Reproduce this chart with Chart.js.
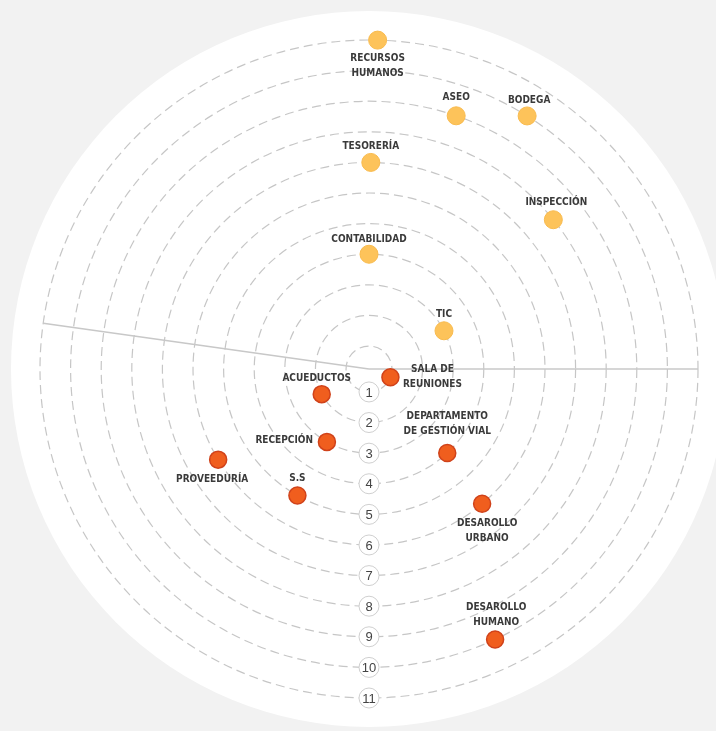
<!DOCTYPE html>
<html>
<head>
<meta charset="utf-8">
<script src="https://cdn.jsdelivr.net/npm/chart.js@4/dist/chart.umd.min.js"></script>
<style>
  body { margin: 0; background: #f2f2f2; }
  #wrap { width: 716px; height: 731px; position: relative; }
</style>
</head>
<body>
<div id="wrap"><canvas id="myChart"></canvas></div>
<script>
// ring numbers shown along the bottom axis
var rings = [1, 2, 3, 4, 5, 6, 7, 8, 9, 10, 11];

// upper group (yellow): name, ring, angle in degrees clockwise from top
var topNames = ['RECURSOS\nHUMANOS', 'ASEO', 'BODEGA', 'TESORERÍA', 'INSPECCIÓN', 'CONTABILIDAD', 'TIC'];
var topRings = [11, 9, 10, 7, 8, 4, 3];
var topAngles = [1.5, 19, 32, 0.5, 51, 0, 63];

// lower group (orange)
var lowNames = ['SALA DE\nREUNIONES', 'ACUEDUCTOS', 'RECEPCIÓN', 'DEPARTAMENTO\nDE GESTIÓN VIAL', 'PROVEEDURÍA', 'S.S', 'DESAROLLO\nURBANO', 'DESAROLLO\nHUMANO'];
var lowRings = [1, 2, 3, 4, 6, 5, 6, 10];
var lowAngles = [111, 242, 210, 137, 239, 209.5, 140, 155];

// the two solid divider lines
var dividers = [90, 278];

// where each label sits relative to its dot: [dx, dy of first line, align]
var topLabelPos = [[0, 18, 'center'], [0, -18, 'center'], [2, -16, 'center'], [0, -16, 'center'], [3, -17, 'center'], [0, -15, 'center'], [0, -16, 'center']];
var lowLabelPos = [[42, -8, 'center'], [-5, -16, 'center'], [-14, -1, 'right'], [0, -37, 'center'], [-6, 20, 'center'], [0, -17, 'center'], [5, 20, 'center'], [1, -32, 'center']];

// half-degree slots around the circle
var perDegree = 2;
var steps = 360 * perDegree;
var angleLabels = [];
for (var i = 0; i < steps; i++) angleLabels.push('');

function slot(deg) { return Math.round(deg * perDegree) % steps; }

function spread(values, angles) {
  var arr = [];
  for (var i = 0; i < steps; i++) arr.push(null);
  for (var j = 0; j < values.length; j++) arr[slot(angles[j])] = values[j];
  return arr;
}

var dividerSlots = dividers.map(slot);
var labelFont = 'bold 10px "Liberation Sans Narrow", "DejaVu Sans Condensed", Arial, sans-serif';

var discPlugin = {
  id: 'disc',
  beforeDraw: function(chart) {
    var s = chart.scales.r, c = chart.ctx;
    c.save();
    c.fillStyle = '#ffffff';
    c.beginPath();
    c.arc(s.xCenter, s.yCenter, s.drawingArea + 29, 0, Math.PI * 2);
    c.fill();
    c.restore();
  }
};

var ringLabelPlugin = {
  id: 'ringLabels',
  beforeDatasetsDraw: function(chart) {
    var s = chart.scales.r, c = chart.ctx;
    c.save();
    c.font = '13px "Liberation Sans Narrow", Arial, sans-serif';
    c.textAlign = 'center';
    c.textBaseline = 'middle';
    rings.forEach(function(n) {
      var p = s.getPointPositionForValue(slot(180), n);
      c.fillStyle = '#ffffff';
      c.strokeStyle = '#d0d0d0';
      c.lineWidth = 1;
      c.beginPath();
      c.arc(p.x, p.y, 10, 0, Math.PI * 2);
      c.fill();
      c.stroke();
      c.fillStyle = '#444';
      c.fillText(String(n), p.x, p.y + 1);
    });
    c.restore();
  }
};

var nameLabelPlugin = {
  id: 'nameLabels',
  afterDatasetsDraw: function(chart) {
    var c = chart.ctx;
    var groups = [[topNames, topAngles, topLabelPos], [lowNames, lowAngles, lowLabelPos]];
    c.save();
    c.font = labelFont;
    c.fillStyle = '#3a3a3a';
    c.textBaseline = 'middle';
    groups.forEach(function(g, di) {
      var meta = chart.getDatasetMeta(di);
      g[0].forEach(function(name, k) {
        var el = meta.data[slot(g[1][k])];
        var pos = g[2][k];
        c.textAlign = pos[2];
        name.split('\n').forEach(function(line, li) {
          c.fillText(line, el.x + pos[0], el.y + pos[1] + li * 15);
        });
      });
    });
    c.restore();
  }
};

var ctx = document.getElementById('myChart').getContext('2d');

var myChart = new Chart(ctx, {
  type: 'radar',
  data: {
    labels: angleLabels,
    datasets: [{
      data: spread(topRings, topAngles),
      showLine: false,
      borderWidth: 0,
      borderColor: 'transparent',
      fill: false,
      pointRadius: 9,
      pointBackgroundColor: '#fdc35a',
      pointBorderColor: '#f9bb4e',
      pointBorderWidth: 1
    }, {
      data: spread(lowRings, lowAngles),
      showLine: false,
      borderWidth: 0,
      borderColor: 'transparent',
      fill: false,
      pointRadius: 8.5,
      pointBackgroundColor: '#f05e1e',
      pointBorderColor: '#d0421a',
      pointBorderWidth: 1.5
    }]
  },
  options: {
    responsive: true,
    maintainAspectRatio: false,
    animation: false,
    events: [],
    layout: { padding: { left: 40, top: 40, right: 18, bottom: 33 } },
    plugins: {
      legend: { display: false },
      tooltip: { enabled: false }
    },
    scales: {
      r: {
        min: 0.25,
        max: 11,
        ticks: { display: false, stepSize: 1 },
        grid: { circular: true, color: '#c6c6c6', lineWidth: 1.2 },
        border: { dash: [9, 5] },
        angleLines: {
          display: true,
          color: '#c8c8c8',
          lineWidth: function(c) { return dividerSlots.indexOf(c.index) >= 0 ? 1.5 : 0; }
        },
        pointLabels: { display: false }
      }
    }
  },
  plugins: [discPlugin, ringLabelPlugin, nameLabelPlugin]
});
</script>
</body>
</html>
